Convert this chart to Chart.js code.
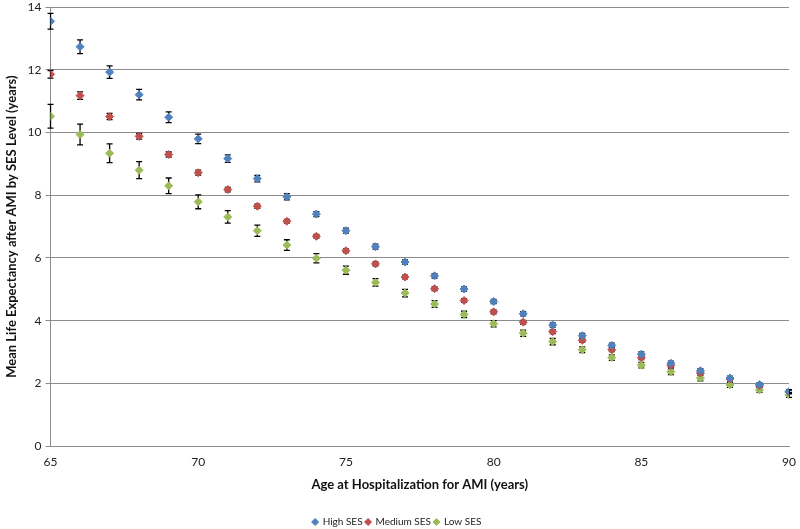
<!DOCTYPE html>
<html>
<head>
<meta charset="utf-8">
<script src="https://cdn.jsdelivr.net/npm/chart.js@4"></script>
<style>
  html, body { margin: 0; padding: 0; background: #fff; overflow: hidden; }
  #wrap { width: 800px; height: 529px; overflow: hidden; }
  #chart { display: block; margin-top: -4px; }
</style>
</head>
<body>
<div id="wrap"><canvas id="chart" width="800" height="541"></canvas></div>
<script>
        // Datos
        const ages = [65, 66, 67, 68, 69, 70, 71, 72, 73, 74, 75, 76, 77, 78, 79, 80, 81, 82, 83, 84, 85, 86, 87, 88, 89, 90];
        const highSES = [13.55, 12.74, 11.93, 11.21, 10.49, 9.80, 9.17, 8.53, 7.95, 7.40, 6.87, 6.36, 5.87, 5.43, 5.01, 4.61, 4.22, 3.86, 3.52, 3.21, 2.93, 2.64, 2.40, 2.17, 1.96, 1.74];
        const mediumSES = [11.86, 11.18, 10.51, 9.88, 9.30, 8.72, 8.18, 7.65, 7.17, 6.69, 6.23, 5.81, 5.39, 5.02, 4.64, 4.28, 3.95, 3.65, 3.37, 3.07, 2.82, 2.57, 2.33, 2.14, 1.92, 1.72];
        const lowSES = [10.52, 9.94, 9.34, 8.80, 8.30, 7.79, 7.31, 6.87, 6.41, 5.99, 5.61, 5.22, 4.88, 4.53, 4.20, 3.90, 3.60, 3.33, 3.07, 2.82, 2.58, 2.37, 2.17, 1.95, 1.79, 1.63];
        const highErr = [0.25, 0.22, 0.2, 0.17, 0.17, 0.15, 0.12, 0.1, 0.1, 0.08, 0.08, 0.08, 0.07, 0.07, 0.07, 0.07, 0.07, 0.07, 0.07, 0.07, 0.07, 0.07, 0.07, 0.06, 0.06, 0.06];
        const mediumErr = [0.12, 0.12, 0.1, 0.09, 0.08, 0.08, 0.07, 0.07, 0.06, 0.06, 0.06, 0.06, 0.06, 0.06, 0.06, 0.06, 0.06, 0.06, 0.06, 0.06, 0.06, 0.06, 0.06, 0.06, 0.06, 0.06];
        const lowErr = [0.38, 0.33, 0.3, 0.27, 0.25, 0.22, 0.2, 0.18, 0.17, 0.15, 0.13, 0.12, 0.12, 0.11, 0.1, 0.1, 0.1, 0.1, 0.09, 0.09, 0.09, 0.09, 0.09, 0.08, 0.08, 0.08];
        const seriesNames = ['High SES', 'Medium SES', 'Low SES'];
        const seriesColors = ['#4F81BD', '#C0504D', '#9BBB59'];

        const fontFamily = 'Lato, "Open Sans", sans-serif';
        const gridColor = '#8c8c8c';

        function toPoints(values) {
            return ages.map((a, i) => ({ x: a, y: values[i] }));
        }

        // Plugin de barras de error (dibuja detras de los marcadores)
        const errorBarsPlugin = {
            id: 'errorBars',
            beforeDatasetsDraw(chart) {
                const ctx = chart.ctx;
                const xs = chart.scales.x;
                const ys = chart.scales.y;
                ctx.save();
                ctx.strokeStyle = '#000';
                ctx.lineWidth = 1.3;
                chart.data.datasets.forEach(ds => {
                    ds.data.forEach((p, i) => {
                        const e = ds.errors[i];
                        const px = xs.getPixelForValue(p.x);
                        const yTop = ys.getPixelForValue(p.y + e);
                        const yBot = ys.getPixelForValue(p.y - e);
                        ctx.beginPath();
                        ctx.moveTo(px, yTop);
                        ctx.lineTo(px, yBot);
                        ctx.moveTo(px - 3, yTop);
                        ctx.lineTo(px + 3, yTop);
                        ctx.moveTo(px - 3, yBot);
                        ctx.lineTo(px + 3, yBot);
                        ctx.stroke();
                    });
                });
                ctx.restore();
            }
        };

        const errorSets = [highErr, mediumErr, lowErr];
        const valueSets = [highSES, mediumSES, lowSES];

        const ctx = document.getElementById('chart').getContext('2d');
        const chart = new Chart(ctx, {
            type: 'scatter',
            data: {
                datasets: seriesNames.map((name, k) => ({
                    label: name,
                    data: toPoints(valueSets[k]),
                    errors: errorSets[k],
                    pointStyle: 'rectRot',
                    pointRadius: 4,
                    pointHoverRadius: 4,
                    backgroundColor: seriesColors[k],
                    borderColor: seriesColors[k],
                    borderWidth: 1
                }))
            },
            options: {
                responsive: false,
                animation: false,
                layout: { padding: { top: 0, right: 10, left: 4, bottom: 0 } },
                scales: {
                    x: {
                        type: 'linear',
                        min: 65,
                        max: 90,
                        ticks: { stepSize: 5, color: '#222', font: { family: fontFamily, size: 12 }, padding: 4 },
                        grid: { display: false, drawOnChartArea: false, drawTicks: true, tickLength: 5, color: gridColor },
                        border: { color: gridColor, width: 1 },
                        title: {
                            display: true,
                            text: 'Age at Hospitalization for AMI (years)',
                            color: '#111',
                            font: { family: fontFamily, size: 13, weight: 'bold' },
                            padding: { top: 4, bottom: 21 }
                        }
                    },
                    y: {
                        min: 0,
                        max: 14,
                        ticks: { stepSize: 2, color: '#222', font: { family: fontFamily, size: 12 }, padding: 4 },
                        grid: { color: gridColor, lineWidth: 1, tickLength: 5 },
                        border: { color: gridColor, width: 1 },
                        title: {
                            display: true,
                            text: 'Mean Life Expectancy after AMI by SES Level (years)',
                            color: '#111',
                            font: { family: fontFamily, size: 13, weight: 'bold' },
                            padding: { top: 0, bottom: 4 }
                        }
                    }
                },
                plugins: {
                    legend: {
                        position: 'bottom',
                        labels: {
                            usePointStyle: true,
                            pointStyle: 'rectRot',
                            boxWidth: 5,
                            boxHeight: 5,
                            padding: 3,
                            color: '#222',
                            font: { family: fontFamily, size: 10 }
                        }
                    },
                    tooltip: { enabled: false }
                }
            },
            plugins: [errorBarsPlugin]
        });
</script>
</body>
</html>
